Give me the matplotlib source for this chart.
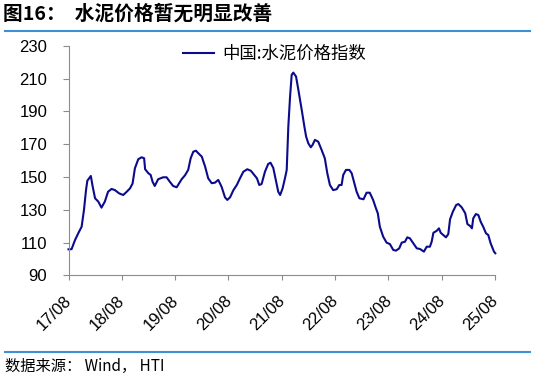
import matplotlib
matplotlib.use('Agg')
import matplotlib.pyplot as plt
import matplotlib.dates as mdates
from matplotlib.lines import Line2D
from matplotlib.transforms import ScaledTranslation
import pandas as pd

# 中国:水泥价格指数
dates = [
    '2017-08-01', '2017-08-22', '2017-09-15', '2017-10-07', '2017-10-30', '2017-11-15', '2017-11-29', '2017-12-08',
    '2018-01-01', '2018-01-14', '2018-01-30', '2018-02-21', '2018-03-15', '2018-04-07', '2018-04-29', '2018-05-23',
    '2018-06-15', '2018-07-14', '2018-08-11', '2018-09-04', '2018-09-26', '2018-10-14', '2018-10-30', '2018-11-22',
    '2018-12-15', '2019-01-01', '2019-01-08', '2019-01-30', '2019-02-15', '2019-02-28', '2019-03-15', '2019-04-07',
    '2019-05-11', '2019-06-04', '2019-06-26', '2019-07-19', '2019-08-12', '2019-09-15', '2019-10-08', '2019-10-30',
    '2019-11-16', '2019-12-04', '2019-12-22', '2020-01-08', '2020-01-31', '2020-02-23', '2020-03-15', '2020-04-08',
    '2020-04-30', '2020-05-23', '2020-06-15', '2020-07-08', '2020-07-24', '2020-08-12', '2020-09-04', '2020-09-27',
    '2020-10-19', '2020-11-11', '2020-12-08', '2021-01-01', '2021-01-19', '2021-02-12', '2021-02-28', '2021-03-16',
    '2021-04-08', '2021-04-30', '2021-05-16', '2021-06-04', '2021-06-24', '2021-07-08', '2021-07-21', '2021-08-07',
    '2021-08-23', '2021-09-04', '2021-09-15', '2021-09-27', '2021-10-08', '2021-10-19', '2021-11-07', '2021-11-23',
    '2021-12-16', '2022-01-03', '2022-01-15', '2022-01-30', '2022-02-16', '2022-02-28', '2022-03-16', '2022-04-08',
    '2022-05-01', '2022-05-23', '2022-06-09', '2022-06-27', '2022-07-19', '2022-08-12', '2022-08-30', '2022-09-15',
    '2022-09-26', '2022-10-15', '2022-11-07', '2022-11-23', '2022-12-09', '2022-12-27', '2023-01-15', '2023-02-12',
    '2023-03-05', '2023-03-27', '2023-04-19', '2023-05-08', '2023-05-21', '2023-06-04', '2023-06-27', '2023-07-20',
    '2023-08-12', '2023-09-04', '2023-09-23', '2023-10-15', '2023-11-01', '2023-11-23', '2023-12-09', '2023-12-27',
    '2024-01-19', '2024-02-12', '2024-03-05', '2024-04-01', '2024-04-20', '2024-05-12', '2024-05-24', '2024-06-05',
    '2024-06-28', '2024-07-13', '2024-07-25', '2024-08-12', '2024-08-30', '2024-09-15', '2024-09-27', '2024-10-16',
    '2024-11-08', '2024-11-23', '2024-12-16', '2025-01-09', '2025-01-24', '2025-02-12', '2025-02-24', '2025-03-05',
    '2025-03-23', '2025-04-09', '2025-04-25', '2025-05-12', '2025-05-31', '2025-06-16', '2025-07-02', '2025-07-25',
    '2025-08-03',
]
values = [
    105.9, 106.0, 111.6, 115.7, 119.7, 129.9, 142.0, 147.7,
    150.6, 144.0, 137.0, 135.0, 131.3, 135.0, 141.0, 142.7,
    142.0, 140.0, 139.0, 141.0, 143.0, 146.0, 155.3, 160.8,
    162.0, 161.4, 154.7, 152.3, 151.2, 147.1, 144.5, 148.6,
    149.8, 149.8, 147.1, 144.5, 143.7, 148.6, 151.0, 154.3,
    161.4, 165.4, 166.0, 164.4, 162.4, 156.3, 149.2, 146.2,
    146.5, 148.2, 144.0, 137.6, 136.0, 137.6, 142.0, 145.1,
    149.2, 153.2, 154.7, 153.8, 151.8, 149.2, 145.1, 145.7,
    153.2, 157.9, 158.7, 155.5, 147.1, 141.0, 139.0, 143.1,
    149.2, 154.3, 180.7, 199.0, 212.2, 213.6, 211.2, 203.0,
    190.8, 180.7, 174.6, 170.5, 168.1, 169.5, 172.6, 171.5,
    166.5, 161.4, 152.3, 145.1, 142.0, 142.5, 145.1, 145.1,
    151.2, 154.3, 154.3, 152.3, 147.1, 141.0, 137.0, 136.4,
    140.4, 140.4, 136.0, 131.0, 127.9, 119.7, 113.6, 110.0,
    109.1, 105.5, 105.1, 106.5, 110.0, 110.5, 113.2, 112.6,
    109.6, 106.5, 106.1, 104.5, 107.5, 107.5, 110.5, 116.0,
    117.2, 118.7, 116.0, 114.6, 113.2, 115.2, 124.2, 128.8,
    132.9, 133.5, 131.5, 127.9, 121.3, 120.1, 118.7, 124.8,
    127.4, 126.8, 122.7, 119.7, 115.7, 114.6, 109.6, 104.5,
    103.5,
]
series_name = '中国:水泥价格指数'
y_ticks = [90, 110, 130, 150, 170, 190, 210, 230]
x_tick_dates = ['2017-08-01', '2018-08-01', '2019-08-01', '2020-08-01', '2021-08-01',
                '2022-08-01', '2023-08-01', '2024-08-01', '2025-08-01']

title = '图16：  水泥价格暂无明显改善'
source = '数据来源： Wind， HTI'

cjk = ['Noto Sans CJK SC', 'DejaVu Sans']
plt.rcParams['font.family'] = ['Liberation Sans', 'DejaVu Sans']

df = pd.DataFrame({'Date': pd.to_datetime(dates), 'Value': values})
xt = pd.to_datetime(x_tick_dates)

fig = plt.figure(figsize=(5.37, 3.78), dpi=100)
ax = fig.add_axes([68.5 / 537, 0.2714, (495 - 68.5) / 537, 0.6077])

ax.plot(df['Date'], df['Value'], color='#0b0b8c', lw=1.5, label=series_name, clip_on=False)

ax.set_ylim(90, 230)
ax.set_yticks(y_ticks)
ax.set_xlim(xt[0], xt[-1])
ax.set_xticks(xt)
ax.xaxis.set_major_formatter(mdates.DateFormatter('%y/%m'))

for s in ['top', 'right']:
    ax.spines[s].set_visible(False)
for s in ['left', 'bottom']:
    ax.spines[s].set_color('#8c8c8c')
    ax.spines[s].set_linewidth(0.8)

ax.tick_params(axis='y', length=4.3, width=0.8, color='#8c8c8c', pad=11, labelsize=12)
ax.tick_params(axis='x', length=3.6, width=0.8, color='#8c8c8c', pad=9, labelsize=12)
for lab in ax.get_xticklabels():
    lab.set_rotation(45)
    lab.set_ha('right')
    lab.set_transform(lab.get_transform() + ScaledTranslation(6 / 100, 0, fig.dpi_scale_trans))

leg = ax.legend(frameon=False, loc='center left', bbox_to_anchor=(0.268, 0.964),
                borderaxespad=0, borderpad=0, handlelength=1.8, handletextpad=0.45,
                prop={'family': cjk, 'size': 12.5})

# header / footer
fig.text(3 / 537, 1 - 14 / 378, title, fontsize=14.2, fontweight='bold', family=cjk, va='center', ha='left')
fig.add_artist(Line2D([5 / 537, 530 / 537], [1 - 31 / 378] * 2, color='#3d8fd6', lw=1.5, transform=fig.transFigure))
fig.add_artist(Line2D([5 / 537, 530 / 537], [1 - 352 / 378] * 2, color='#3d8fd6', lw=1.5, transform=fig.transFigure))
fig.text(5 / 537, 1 - 366 / 378, source, fontsize=11, family=cjk, va='center', ha='left')

fig.savefig('out.png', dpi=100)
